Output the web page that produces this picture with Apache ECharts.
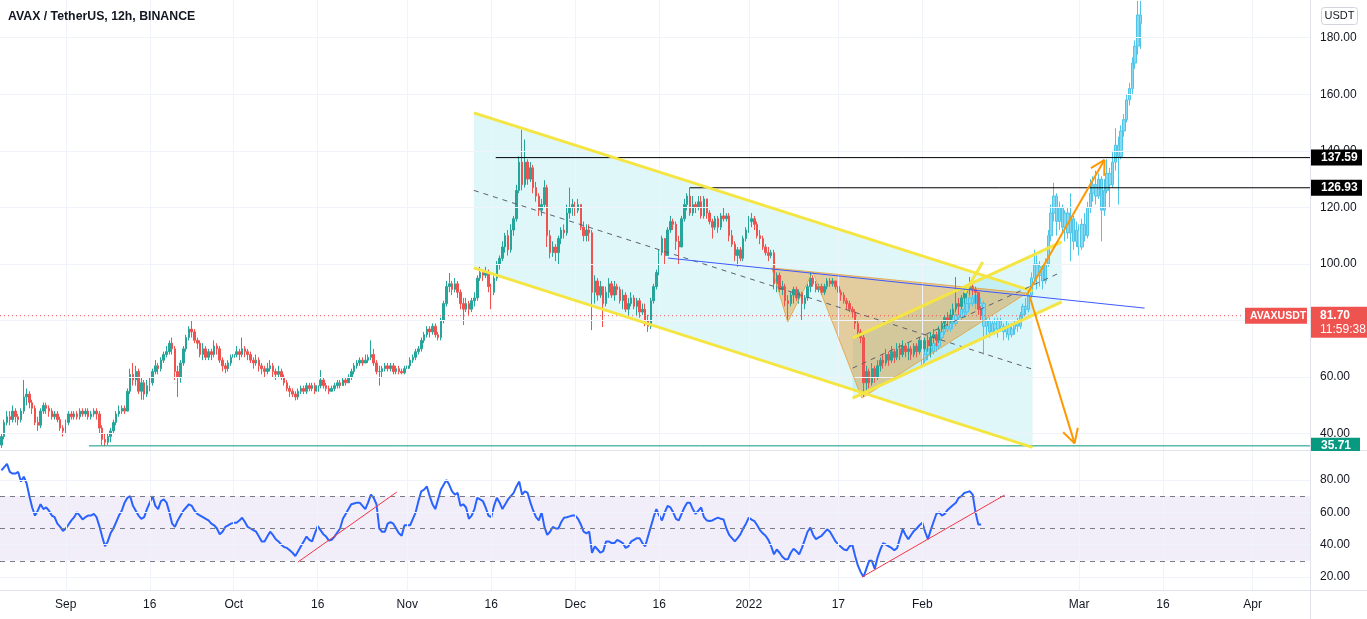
<!DOCTYPE html>
<html><head><meta charset="utf-8">
<script src="https://cdn.jsdelivr.net/npm/echarts@6/dist/echarts.min.js"></script>
<style>html,body{margin:0;padding:0;background:#fff;overflow:hidden}#c{width:1367px;height:619px}</style>
</head><body><div id="c"></div>
<script>
// ---------- DATA ----------
const startTime = Date.UTC(2021, 7, 20, 12);   // first 12h candle
const slotCount = 468;                         // candle slots incl. future space
const firstOpen = 36;
const closes = [39,44,46,45,48,46,45,48,53,54, 51,49,44,43,48,50,49,48,46,47, 45,42,41,44,47,46,47,46,48,47,
48,46,47,48,47,42,38,37,39,41, 44,47,48,49,48,55,61,59,62,55, 58,54,57,58,62,64,63,66,68,69,
72,70,62,60,65,70,74,77,76,73, 72,68,70,67,69,68,71,70,66,64, 63,65,67,68,69,68,70,69,68,66,
65,66,64,63,62,63,64,62,61,62, 60,58,56,55,54,53,55,56,55,57, 56,57,55,57,59,57,56,55,56,57,
58,57,59,58,60,62,64,65,66,65, 66,67,68,65,62,62,63,64,63,64, 62,63,62,61.5,63,64,66,67,69,70,
73,75,77,76,78,75,74,80,86,92, 93,91,93,90,86,84,86,84,87,88, 95,97,96,97,92,90,95,100,102,106,
110,105,112,116,126,136,128,136,130,134, 127,124,119,121,127,110,104,106,104,109, 112,111,118,120,121,119,121,113,110,112,
111,90,94,89,92,86,90,93,89,92, 91,87,89,84,86,88,85,87,83,84, 80,78,87,92,97,104,109,103,112,115,
114,108,106,116,121,124,118,121,120,122, 117,123,118,115,113,116,113,117,116,117, 110,107,103,105,102,109,112,115,116,114,
110,109,106,104,103,104,93,96,91,92, 87,86,89,91,88,90,86,88,92,95, 93,91,92,90,92,94,93,94,92,90,
89,87,86,84,83,79,76,74,58,62, 58,63,60,64,66,65,68,66,69,67, 70,68,71,69,70,68,71,69,73,70,
73,71,74,75,73,77,79,81,80,82, 84,86,85,88,90,91,92,91,90,84, 81.7];
const highs = [40,45,48,48,50,49,47,49,59,56, 55,52,50,46,49,51,51,50,49,48, 48,46,43,45,48,48,48,48,49,49,
49,49,48,49,49,48,43,40,40,42, 45,48,50,50,50,56,63,65,64,63, 60,59,59,60,63,66,65,67,69,71,
73,74,71,64,66,71,75,78,80,77, 74,73,72,71,70,70,73,72,71,67, 65,66,68,70,71,70,74,71,70,69,
67,68,67,65,64,65,66,65,63,64, 63,61,59,57,56,55,56,57,57,58, 58,58,58,59,62.5,60,58,57,57,58,
59,59,60,60,61,63,65,66,67,67, 68,68,73,70,66,64,64,65,65,65, 65,64,64,63,64,65,67,68,70,71,
74,76,78,78,79,79,76,81,87,94, 96.8,94,95,94,91,88,88,87,88,90, 96,99,98,99,98,93,96,101,103,108,
111,112,114,117,128,138,147.4,144,137,136, 135,129,125,123,129.6,128,112,108,107,110, 113,114,121,127,123,122,123,121,115,114,
114,112,96,95,94,92,92,95,94,94, 93,92,91,90,88,90,89,88,88,86, 86,82,88,93,98,105,110,108,113,117,
116,115,110,117,123,125,126.93,124,122,124, 124,124,123,119,116,117,117,118,120,118, 118,112,108,106,106,110,113,117,118,117,
115,112,110,107,106,105,105,97,97,94, 93,89,90,92,92,91,90,89,93,97, 96,94,93,93,93,95,95,95,94,93,
91,90,88,87,85,84,80,77,75,64, 63,65,64,66,67,68,70,69,71,70, 72,72,73,72,72,71,72,72,74,74,
74,75,76,77,76,78,80,82,83,84, 86,95.4,88,89,91,92,95.4,93,92,90, 85];
const lows = [35,38,43,43,44,44,43,44,47,50, 49,47,43,41,42,47,47,46,45,45, 44,41,39,40,43,45,45,45,45,46,
46,45,45,46,45,40,36,35.71,36,37, 40,43,46,47,47,48,54,57,57,54, 52,52,53,55,57,61,61,62,65,67,
68,68,59,53,58,64,69,73,74,72, 70,67,66,66,66,66,67,68,65,62, 61.4,62,64,66,67,66,67,67,66,65,
63,64,62,61,60,61,62,60,59,60, 59,57,55,53,53,51.8,52,54,54,54, 55,55,54,55,56,56,55,54,55,55,
56,56,57,57,58,59,61,63,64,64, 65,65,66,64,61,57,60,62,62,62, 61,61,61,61,61,62,63,65,66,68,
69,72,74,74,75,74,73,73,79,85, 90,89,90,88,84,78.4,83,82,83,85, 87,94,94,95,90,84,89,94,98,101,
104,103,104,110,115,125,126,127,128,129, 125,122,117,117,120,106,102,102.5,101,100, 107,109,110,116,117,117,118,112,108,108,
108,76.6,86,87,88,77.7,85,88,88,87, 89,86,84,83,82,85,84,82,81,82, 78,76,77,86,91,96,103,100,103,111,
112,105,100,106,115,119,117,117,118,119, 116,116,116,114,109,112,111,112,115,115, 108,106,101,99,101,101,108,111,113,112,
109,107,105,103,101,102,91,90,90,89, 85,80,85,86,87,86,80,84,87,90, 92,90,90,89,89,91,92,92,91,89,
87,86,84,83,81,77,74,72,53,55, 56,57,58,59,62,63,64,64,65,65, 66,66,67,67,66,66,67,67,68,69,
69,69,67,72,71,72,76,77,78,79, 81,83,82,84,86,88,89,89,86,82, 80];
// projected "bars pattern" (light blue) starting at slot 329
const ghostStart = 329;
const ghostFirstOpen = 64;
const ghostCloses = [66,68,70,69,72,71,74,76,78,77, 80,79,82,81,84,83,86,88,86,89, 85,86,78,80,76,79,77,80,78,76,
78,75,77,79,78,82,85,84,89,95, 100,96,99,94,100,110,118,124,115,120, 113,118,111,116,108,112,106,114,110,120,
125,128,124,130,119,126,132,128,136,142, 138,147,151,158,162,171,177,188,185];
const ghostHighs = [70,70,71,72,74,75,77,78,80,81, 82,83,84,85,86,87,88,90,92,91, 90,88,87,81,81,80,81,81,81,79,
80,79,79,80,81,83,86,88,90,97, 105,103,101,100,102,112,121,128.7,125,122, 121,119,120,125,117,115,114,116,118,122,
130,131,133,132,131,130,137,134,140,148, 145,149,153,160,164,173,179,193,193];
const ghostLows = [64,65,66,67,68,69,70,73,75,76, 76,77,78,80,80,81,82,84,85,84, 83,80,68,74,74,75,75,74,76,73,
74,73,74,75,76,77,80,82,83,88, 93,91,92,91,93,99,108,115,110,112, 111,108,109,101,105,106,103,105,108,109,
118,122,121,123,108,117,125,120,127,133, 121,137,145,150,156,160,169,174,176];
const rsiValues = [86,88,90,85,84,84,85,79,82,78, 70,63,58,61,65,62,63,61,58,57, 53,51,48.5,50,52.5,55,57,60,58,55.6,
57,58,58,59,57,51.5,45,39,42,47, 50,54,58,61,66,69,70,64,61,58, 56,57,62,66,70,64,62,67,68,66,
60,53,51,55,58,61,63,65,64,61, 59,58,57,56,55,53,52,50,46.4,48, 51,52,53,53.5,53.6,55,56.7,54,51,50,
49,48,45,42,42,45,48,46,43.4,42, 40,38.5,38,36.5,35,33,36,39,42,45, 43,42,47,51.5,49,46.5,45,42.5,43,45,
47.5,50,56,59,62,65,65.5,66,66,64, 62,66,71,69,65,50,48,48,53,54, 53,50,47,45.5,52,52,52,56,60,67,
73,74,76,70,65,62,68,74,77,80, 77,73,71,72,64,65,63,56,58,62, 69,68,67,63,58,57,64,69,66,62,
65,68,70,72,76,79,71,73,72,66, 61,57,55,60,51,46,48,51,50,50, 54,56.7,57,57.5,58,58,56,52.5,48,47,
48,35,39,37,35,36,42,42,41,41, 43,42,41,38,39,42,43,44,44,41, 39,45,51,57,62,58,55,60,64,63,
60,56,55,59,63,66,66,62,59,61, 63,57,55,54.6,55,56,56.7,56,55.6,50, 46,44,42,44,46.4,50,53,56.7,55.5,54.6,
52,49,47,45.5,43,39,34,37,35,32.5, 31,31,35,37.5,36,34,38,43,48,50.5, 46,43.4,44.5,45.5,47.5,49.5,48,45,42,40,
38.5,37,36.5,39,40,33,27,23,20,25, 30,30,25,32,37,41,40,39,38,36.5, 38,44,49.5,46,43.4,46,48.5,50,52,53.6,
48,43.4,49,54,59,60,58,59,61.5,63, 64.5,66,69,70,72,72.5,73,71,60,52.5, 52.5];
const tickDates = ['2021-09-01','2021-09-16','2021-10-01','2021-10-16','2021-11-01','2021-11-16','2021-12-01','2021-12-16','2022-01-01','2022-01-17','2022-02-01','2022-03-01','2022-03-16','2022-04-01'];
const tickLabels = ['Sep','16','Oct','16','Nov','16','Dec','16','2022','17','Feb','Mar','16','Apr'];
const priceTicks = [40,60,80,100,120,140,160,180];
const rsiTicks = [20,40,60,80];
const rsiLevels = [70,50,30];
const lastPrice = 81.70;
const levelHigh = 137.59, levelMid = 126.93, levelLow = 35.71;
// drawings in data space: [slot index, price]
const chanDownUpper = [[168.8,153.4],[368.4,90.4]];
const chanDownLower = [[168.8,98.6],[368.4,35.2]];
const chanUpUpper = [[304.1,73.8],[378.8,107.8]];
const chanUpLower = [[304.1,52.6],[378.8,86.6]];
const blueTrend = [[238.1,102.1],[408.4,84.4]];
const xabcd = [[275.2,98.6],[280.9,79.5],[289.9,97.2],[307.4,52.6],[366.3,89.7]];
const yellowTick = [[344.1,89.7],[350.6,100.7]];
const arrowUp = [[366.3,89.0],[394.1,136.8]];
const arrowDown = [[367.4,88.3],[383.4,36.6]];
const levelStarts = {high:176.6, mid:245.9, low:31.3};
const rsiTrends = [[[105.9,29.2],[141.3,72.6]],[[307.4,19.9],[358.4,70.7]]];

// ---------- BUILD ----------
const cats = [];
for (let i = 0; i < slotCount; i++) cats.push(new Date(startTime + i * 43200000).toISOString().slice(0, 13));
const tickIdx = tickDates.map(d => Math.round((Date.parse(d + 'T00:00:00Z') - startTime) / 43200000));
const candles = closes.map((c, i) => [i === 0 ? firstOpen : closes[i - 1], c, lows[i], highs[i]]);
const ghost = ghostCloses.map((c, k) => [ghostStart + k, k === 0 ? ghostFirstOpen : ghostCloses[k - 1], c, ghostLows[k], ghostHighs[k]]);
const FONT = 'Liberation Sans, Arial, sans-serif';
const gridColor = '#f0f3fa';
const vLines = tickIdx.map(i => ({xAxis: cats[i]}));

const chart = echarts.init(document.getElementById('c'));
chart.setOption({
  animation: false,
  backgroundColor: '#ffffff',
  textStyle: {fontFamily: FONT},
  grid: [{left: 0, right: 57, top: 0, height: 450}, {left: 0, right: 57, top: 451, height: 139}],
  xAxis: [
    {type: 'category', gridIndex: 0, data: cats, show: false},
    {type: 'category', gridIndex: 1, data: cats, axisLine: {show: false}, axisTick: {show: false}, splitLine: {show: false},
      axisLabel: {interval: (i) => tickIdx.includes(i), formatter: (v, i) => tickLabels[tickIdx.indexOf(i)], color: '#131722', fontSize: 12, margin: 9, fontFamily: FONT}},
    {type: 'value', gridIndex: 0, min: -0.5, max: slotCount - 0.5, show: false},
    {type: 'value', gridIndex: 1, min: -0.5, max: slotCount - 0.5, show: false}
  ],
  yAxis: [
    {type: 'value', gridIndex: 0, min: 34.25, max: 193.3, position: 'right', show: false},
    {type: 'value', gridIndex: 1, min: 11.96, max: 97.94, position: 'right', show: false}
  ],
  series: [
    {type: 'candlestick', name: 'AVAXUSDT', xAxisIndex: 0, yAxisIndex: 0, data: candles, barWidth: 2, z: 3,
      itemStyle: {color: '#26a69a', color0: '#ef5350', borderColor: '#26a69a', borderColor0: '#ef5350', borderWidth: 1},
      markLine: {silent: true, symbol: ['none', 'none'], animation: false,
        data: [
          ...vLines.map(v => Object.assign({lineStyle: {color: gridColor, width: 1, type: 'solid'}, label: {show: false}}, v)),
          ...priceTicks.map(v => ({yAxis: v, lineStyle: {color: gridColor, width: 1, type: 'solid'},
            label: {show: true, position: 'end', distance: 10, formatter: v.toFixed(2), color: '#131722', fontSize: 12, fontFamily: FONT}}))
        ]}},
    {type: 'candlestick', name: 'pattern', xAxisIndex: 0, yAxisIndex: 0, data: ghost, barWidth: 3, z: 2,
      encode: {x: 0, y: [1, 2, 3, 4]},
      itemStyle: {color: '#86d9f0', color0: '#86d9f0', borderColor: '#4fc6e8', borderColor0: '#4fc6e8', borderWidth: 1}},
    {type: 'line', name: 'RSI', xAxisIndex: 1, yAxisIndex: 1, data: rsiValues, showSymbol: false, z: 3,
      lineStyle: {color: '#2962ff', width: 2}, itemStyle: {color: '#2962ff'},
      markArea: {silent: true, itemStyle: {color: 'rgba(126,87,194,0.1)'}, data: [[{yAxis: 30}, {yAxis: 70}]]},
      markLine: {silent: true, symbol: ['none', 'none'], animation: false,
        data: [
          ...vLines.map(v => Object.assign({lineStyle: {color: gridColor, width: 1, type: 'solid'}, label: {show: false}}, v)),
          ...rsiTicks.map(v => ({yAxis: v, lineStyle: {color: gridColor, width: 1, type: 'solid'},
            label: {show: true, position: 'end', distance: 10, formatter: v.toFixed(2), color: '#131722', fontSize: 12, fontFamily: FONT}})),
          ...rsiLevels.map(v => ({yAxis: v, lineStyle: {color: '#787b86', width: 1, type: [5, 5]}, label: {show: false}}))
        ]}}
  ]
});

// ---------- DRAWINGS (converted through the chart's own scales) ----------
const P = p => chart.convertToPixel({xAxisIndex: 2, yAxisIndex: 0}, p);
const R = p => chart.convertToPixel({xAxisIndex: 3, yAxisIndex: 1}, p);
const G = [];
const poly = (pts, fill, z) => G.push({type: 'polygon', z: z, silent: true, shape: {points: pts}, style: {fill: fill}});
const seg = (a, b, stroke, w, dash, z) => G.push({type: 'line', z: z || 10, silent: true, shape: {x1: a[0], y1: a[1], x2: b[0], y2: b[1]}, style: {stroke: stroke, lineWidth: w, lineDash: dash || null}});
const mid = (a, b) => [(a[0] + b[0]) / 2, (a[1] + b[1]) / 2];
function arrow(a, b, color) {
  seg(a, b, color, 2, null, 12);
  const ang = Math.atan2(b[1] - a[1], b[0] - a[0]);
  [Math.PI - 0.5, Math.PI + 0.5].forEach(d => seg(b, [b[0] + 16 * Math.cos(ang + d), b[1] + 16 * Math.sin(ang + d)], color, 2, null, 12));
}
const cyanFill = 'rgba(0,188,212,0.12)';
const dU = chanDownUpper.map(P), dL = chanDownLower.map(P);
poly([dU[0], dU[1], dL[1], dL[0]], cyanFill, 1);
const uU = chanUpUpper.map(P), uL = chanUpLower.map(P);
poly([uU[0], uU[1], uL[1], uL[0]], cyanFill, 1);
const X = xabcd.map(P);
poly([X[0], X[1], X[2]], 'rgba(230,145,30,0.42)', 1);
poly([X[2], X[3], X[4]], 'rgba(230,145,30,0.42)', 1);
[[0,1],[1,2],[2,3],[3,4],[0,2],[2,4]].forEach(e => seg(X[e[0]], X[e[1]], 'rgba(230,150,40,0.7)', 1, null, 6));
seg(dU[0], dU[1], '#f4e542', 3); seg(dL[0], dL[1], '#f4e542', 3);
seg(mid(dU[0], dL[0]), mid(dU[1], dL[1]), '#5d606b', 1, [5, 5]);
seg(uU[0], uU[1], '#f4e542', 3); seg(uL[0], uL[1], '#f4e542', 3);
seg(mid(uU[0], uL[0]), mid(uU[1], uL[1]), '#5d606b', 1, [5, 5]);
const yt = yellowTick.map(P); seg(yt[0], yt[1], '#f4e542', 3);
const bt = blueTrend.map(P); seg(bt[0], bt[1], '#3d5afe', 1);
const right = chart.convertToPixel({xAxisIndex: 2}, slotCount - 0.5);
const hLine = (start, val, color) => { const a = P([start, val]); seg(a, [right, a[1]], color, 1, null, 8); return a[1]; };
const yHigh = hLine(levelStarts.high, levelHigh, '#000000');
const yMid = hLine(levelStarts.mid, levelMid, '#000000');
const yLow = hLine(levelStarts.low, levelLow, '#089981');
const yLast = P([0, lastPrice])[1];
seg([0, yLast], [right - 66, yLast], '#ef5350', 1, [1, 3], 8);
arrow(P(arrowUp[0]), P(arrowUp[1]), '#ff9800');
arrow(P(arrowDown[0]), P(arrowDown[1]), '#ff9800');
rsiTrends.forEach(t => seg(R(t[0]), R(t[1]), '#f23645', 1, null, 8));
G.push({type: 'line', z: 20, silent: true, shape: {x1: right + 0.5, y1: 0, x2: right + 0.5, y2: 619}, style: {stroke: '#e0e3eb', lineWidth: 1}});
G.push({type: 'line', z: 20, silent: true, shape: {x1: 0, y1: 450.5, x2: 1367, y2: 450.5}, style: {stroke: '#e0e3eb', lineWidth: 1}});
G.push({type: 'line', z: 20, silent: true, shape: {x1: 0, y1: 590.5, x2: 1367, y2: 590.5}, style: {stroke: '#e0e3eb', lineWidth: 1}});
function box(x, y, w, h, fill, text, font, tx, z) {
  G.push({type: 'rect', z: z || 30, silent: true, shape: {x: x, y: y, width: w, height: h}, style: {fill: fill}});
  if (text) G.push({type: 'text', z: (z || 30) + 1, silent: true, x: x + tx, y: y + h / 2, style: {text: text, fill: '#ffffff', font: font + ' ' + FONT, textVerticalAlign: 'middle', textAlign: 'left'}});
}
box(right + 1, yHigh - 8, 51, 16, '#000000', levelHigh.toFixed(2), 'bold 12px', 10);
box(right + 1, yMid - 8, 51, 16, '#000000', levelMid.toFixed(2), 'bold 12px', 10);
box(right + 1, yLow - 8, 49, 16, '#089981', levelLow.toFixed(2), 'bold 12px', 10);
G.push({type: 'rect', z: 33, silent: true, shape: {x: right + 1, y: 451, width: 60, height: 6}, style: {fill: '#ffffff'}});
box(right + 1, yLast - 9, 57, 31, '#ef5350', '', '', 0);
G.push({type: 'text', z: 31, silent: true, x: right + 10, y: yLast, style: {text: lastPrice.toFixed(2), fill: '#fff', font: 'bold 12px ' + FONT, textVerticalAlign: 'middle'}});
G.push({type: 'text', z: 31, silent: true, x: right + 10, y: yLast + 14, style: {text: '11:59:38', fill: '#fff', font: '12px ' + FONT, textVerticalAlign: 'middle'}});
box(right - 65, yLast - 8, 62, 16, '#ef5350', 'AVAXUSDT', 'bold 10.5px', 5);
G.push({type: 'rect', z: 30, silent: true, shape: {x: 1321.5, y: 7.5, width: 36, height: 17, r: 3}, style: {fill: '#fff', stroke: '#d1d4dc', lineWidth: 1}});
G.push({type: 'text', z: 31, silent: true, x: 1339.5, y: 16, style: {text: 'USDT', fill: '#131722', font: '11px ' + FONT, textAlign: 'center', textVerticalAlign: 'middle'}});
G.push({type: 'text', z: 31, silent: true, x: 8, y: 16.5, style: {text: 'AVAX / TetherUS, 12h, BINANCE', fill: '#131722', font: 'bold 12.3px ' + FONT, textVerticalAlign: 'middle'}});
chart.setOption({graphic: {elements: G}});
</script></body></html>
